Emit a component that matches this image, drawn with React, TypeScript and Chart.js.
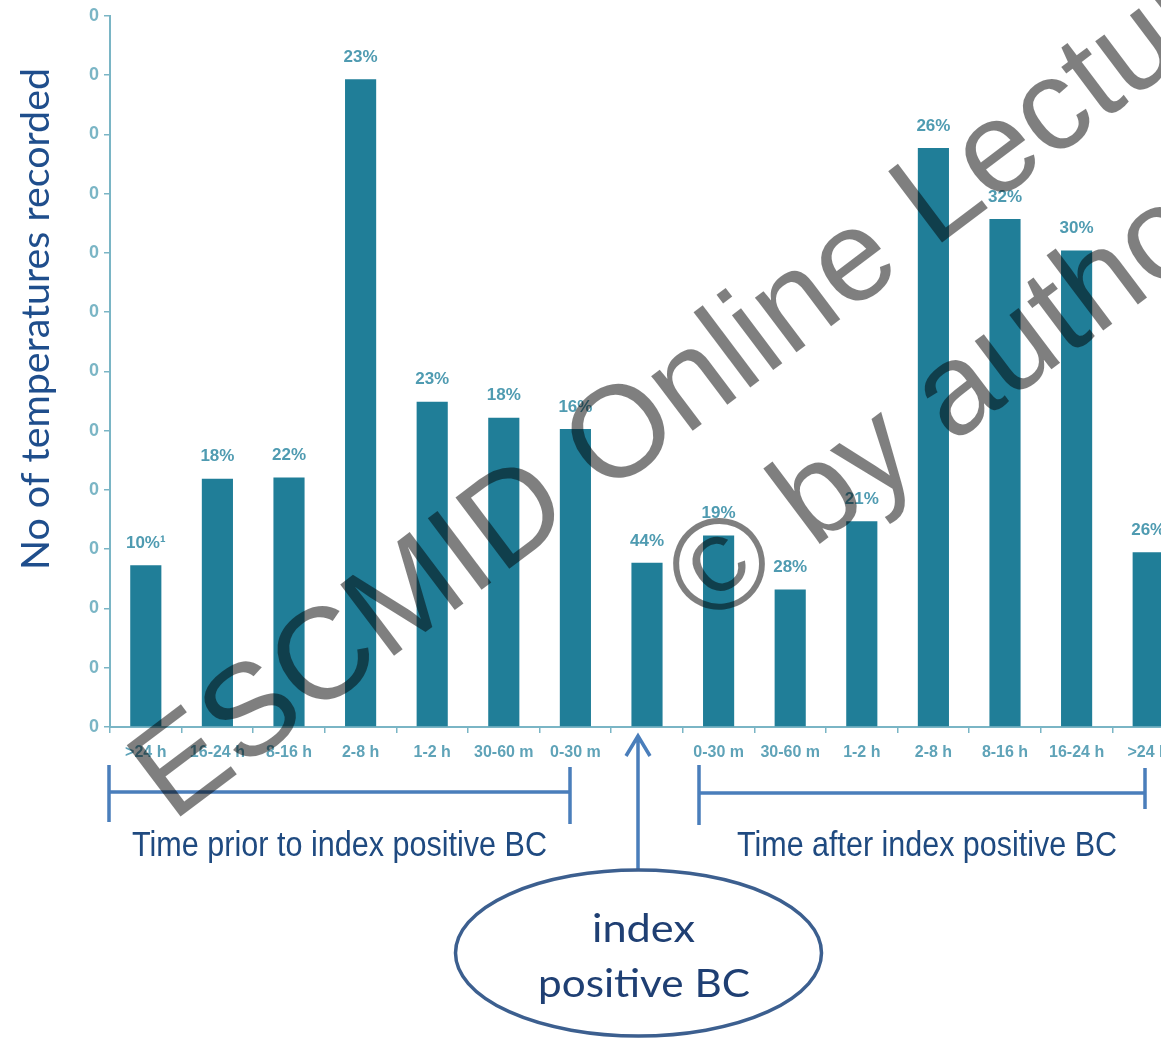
import React, { useEffect, useRef } from "react";
import { Chart, registerables } from "chart.js";

Chart.register(...registerables);

const categories = [">24 h", "16-24 h", "8-16 h", "2-8 h", "1-2 h", "30-60 m", "0-30 m", "", "0-30 m", "30-60 m", "1-2 h", "2-8 h", "8-16 h", "16-24 h", ">24 h"];
const values = [2.73, 4.19, 4.21, 10.93, 5.49, 5.22, 5.03, 2.77, 3.23, 2.32, 3.47, 9.77, 8.57, 8.04, 2.95];
const percentLabels = ["10%¹", "18%", "22%", "23%", "23%", "18%", "16%", "44%", "19%", "28%", "21%", "26%", "32%", "30%", "26%"];
const yTickLabel = "0";
const yMax = 12;
const yStep = 1;
const yTitle = "No of temperatures recorded";
const priorText = "Time prior to index positive BC";
const afterText = "Time after index positive BC";
const indexLines = ["index", "positive BC"];
const watermarkLines = ["ESCMID Online Lecture Library", "© by author"];

const W = 1200;
const H = 1038;
const AREA_TOP = 14;
const AREA_BOTTOM = 727;
const AREA_LEFT = 110;
const AREA_RIGHT = 1184;
const X_AXIS_H = 40;

const BAR = "#207e98";
const AXIS = "#7ab5c5";
const LABEL = "#4f9bb1";
const TICKTXT = "#5fa3b8";
const BLUE_LINE = "#4a7ebb";
const DARK_TEXT = "#1f4a80";

function drawScaledText(ctx: CanvasRenderingContext2D, text: string, cx: number, baseline: number, targetW: number) {
  const m = ctx.measureText(text).width;
  const s = targetW / m;
  ctx.save();
  ctx.translate(cx, baseline);
  ctx.scale(s, 1);
  ctx.textAlign = "center";
  ctx.textBaseline = "alphabetic";
  ctx.fillText(text, 0, 0);
  ctx.restore();
}

const labelPlugin = {
  id: "pctLabels",
  afterDatasetsDraw(chart: any) {
    const ctx = chart.ctx as CanvasRenderingContext2D;
    const meta = chart.getDatasetMeta(0);
    ctx.save();
    ctx.fillStyle = LABEL;
    ctx.font = "bold 17px 'Liberation Sans', Arial, sans-serif";
    ctx.textAlign = "center";
    ctx.textBaseline = "middle";
    meta.data.forEach((el: any, i: number) => {
      ctx.fillText(percentLabels[i], el.x, el.y - 22);
    });
    ctx.restore();
  },
};

const annotationPlugin = {
  id: "annotations",
  afterDraw(chart: any) {
    const ctx = chart.ctx as CanvasRenderingContext2D;
    ctx.save();
    // y title
    ctx.fillStyle = "#1f4e8c";
    ctx.font = "38px Lato, 'Noto Sans', sans-serif";
    ctx.save();
    ctx.translate(49, 319);
    ctx.rotate(-Math.PI / 2);
    drawScaledText(ctx, yTitle, 0, 0, 502);
    ctx.restore();

    // brackets
    ctx.strokeStyle = BLUE_LINE;
    ctx.lineWidth = 3.5;
    ctx.lineCap = "butt";
    ctx.beginPath();
    ctx.moveTo(108, 792); ctx.lineTo(570, 792);
    ctx.moveTo(109, 765); ctx.lineTo(109, 822);
    ctx.moveTo(570, 767); ctx.lineTo(570, 824);
    ctx.moveTo(699, 793); ctx.lineTo(1145, 793);
    ctx.moveTo(699, 765); ctx.lineTo(699, 825);
    ctx.moveTo(1145, 768); ctx.lineTo(1145, 809);
    ctx.stroke();

    // bracket texts
    ctx.fillStyle = DARK_TEXT;
    ctx.font = "35px 'Liberation Sans', Arial, sans-serif";
    drawScaledText(ctx, priorText, 339.5, 856, 415);
    drawScaledText(ctx, afterText, 927, 856, 380);

    // arrow
    ctx.beginPath();
    ctx.moveTo(638, 870); ctx.lineTo(638, 737);
    ctx.moveTo(626, 756); ctx.lineTo(638, 736); ctx.lineTo(650, 756);
    ctx.stroke();

    // ellipse
    ctx.beginPath();
    ctx.ellipse(638.5, 953, 183, 83, 0, 0, Math.PI * 2);
    ctx.fillStyle = "#ffffff";
    ctx.fill();
    ctx.strokeStyle = "#3c5f8f";
    ctx.lineWidth = 3.5;
    ctx.stroke();
    ctx.fillStyle = "#1f3f73";
    ctx.font = "38px Lato, 'Noto Sans', sans-serif";
    drawScaledText(ctx, indexLines[0], 643.5, 942, 103);
    drawScaledText(ctx, indexLines[1], 644, 997, 212);

    // watermark
    ctx.save();
    ctx.translate(172, 823);
    ctx.rotate((-37 * Math.PI) / 180);
    ctx.fillStyle = "rgba(0,0,0,0.5)";
    ctx.font = "130px 'Liberation Sans', Arial, sans-serif";
    ctx.textAlign = "left";
    ctx.textBaseline = "alphabetic";
    ctx.fillText(watermarkLines[0], 0, 0);
    ctx.fillText(watermarkLines[1], 545, 167);
    ctx.restore();

    ctx.restore();
  },
};

export default function App() {
  const ref = useRef<HTMLCanvasElement | null>(null);
  useEffect(() => {
    if (!ref.current) return;
    const chart = new Chart(ref.current, {
      type: "bar",
      data: {
        labels: categories,
        datasets: [
          {
            data: values,
            backgroundColor: BAR,
            borderWidth: 0,
            barPercentage: 0.435,
            categoryPercentage: 1,
          },
        ],
      },
      options: {
        responsive: false,
        animation: false,
        devicePixelRatio: 1,
        layout: {
          padding: { left: 0, right: W - AREA_RIGHT, top: AREA_TOP, bottom: H - AREA_BOTTOM - X_AXIS_H },
        },
        plugins: {
          legend: { display: false },
          tooltip: { enabled: false },
          title: { display: false },
        },
        scales: {
          x: {
            offset: true,
            grid: { offset: true, drawOnChartArea: false, drawTicks: true, tickLength: 6, color: AXIS, lineWidth: 1.5 },
            border: { color: AXIS, width: 2 },
            ticks: {
              padding: 10,
              color: TICKTXT,
              autoSkip: false,
              maxRotation: 0,
              font: { family: "'Liberation Sans', Arial, sans-serif", size: 16, weight: "bold" },
            },
            afterFit: (s: any) => {
              s.height = X_AXIS_H;
            },
          },
          y: {
            min: 0,
            max: yMax,
            grid: { drawOnChartArea: false, drawTicks: true, tickLength: 6, color: AXIS, lineWidth: 1.5 },
            border: { color: AXIS, width: 2 },
            ticks: {
              stepSize: yStep,
              padding: 5,
              color: "#7ab5c5",
              font: { family: "'Liberation Sans', Arial, sans-serif", size: 18, weight: "bold" },
              callback: () => yTickLabel,
            },
            afterFit: (s: any) => {
              s.width = AREA_LEFT;
            },
          },
        },
      } as any,
      plugins: [labelPlugin, annotationPlugin],
    });
    return () => chart.destroy();
  }, []);

  return (
    <div style={{ position: "fixed", left: 0, top: 0, width: 1161, height: 1038, overflow: "hidden", background: "#ffffff" }}>
      <canvas ref={ref} width={W} height={H} style={{ display: "block", width: W, height: H }} />
    </div>
  );
}
